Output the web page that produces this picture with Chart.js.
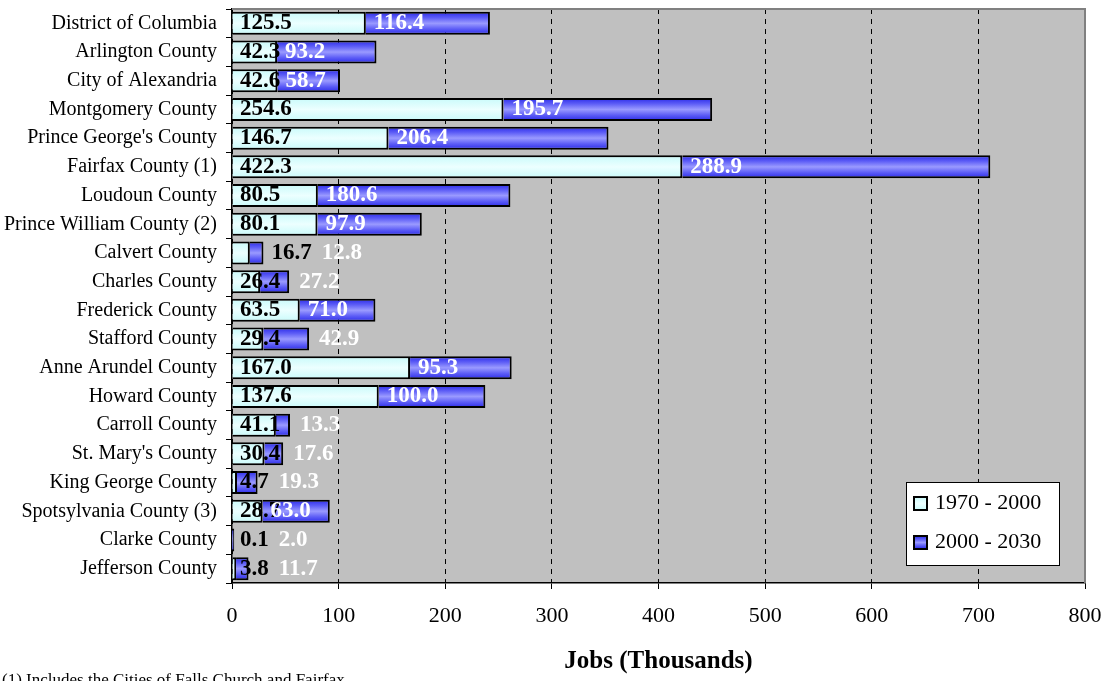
<!DOCTYPE html>
<html>
<head>
<meta charset="utf-8">
<script src="https://cdn.jsdelivr.net/npm/chart.js@4/dist/chart.umd.min.js"></script>
<style>
  html, body { margin: 0; padding: 0; background: #fff; }
  #wrap { width: 1105px; height: 681px; position: relative; }
</style>
</head>
<body>
<div id="wrap"><canvas id="jobsChart" width="1105" height="681"></canvas></div>
<script>
const counties = [
  'District of Columbia', 'Arlington County', 'City of Alexandria', 'Montgomery County',
  "Prince George's County", 'Fairfax County (1)', 'Loudoun County', 'Prince William County (2)',
  'Calvert County', 'Charles County', 'Frederick County', 'Stafford County',
  'Anne Arundel County', 'Howard County', 'Carroll County', "St. Mary's County",
  'King George County', 'Spotsylvania County (3)', 'Clarke County', 'Jefferson County'
];
const jobs1970to2000 = [125.5, 42.3, 42.6, 254.6, 146.7, 422.3, 80.5, 80.1, 16.7, 26.4,
  63.5, 29.4, 167.0, 137.6, 41.1, 30.4, 4.7, 28.7, 0.1, 3.8];
const jobs2000to2030 = [116.4, 93.2, 58.7, 195.7, 206.4, 288.9, 180.6, 97.9, 12.8, 27.2,
  71.0, 42.9, 95.3, 100.0, 13.3, 17.6, 19.3, 63.0, 2.0, 11.7];
const seriesNames = ['1970 - 2000', '2000 - 2030'];
const xTicks = [0, 100, 200, 300, 400, 500, 600, 700, 800];
const footnote = '(1) Includes the Cities of Falls Church and Fairfax';

const SERIF = '"Liberation Serif", "Times New Roman", serif';

// horizontal stripes like the old office fill
function blueFill(ctx, top, bottom) {
  const g = ctx.createLinearGradient(0, top, 0, bottom);
  g.addColorStop(0, '#2a2ae8');
  g.addColorStop(0.25, '#5c5cf6');
  g.addColorStop(0.5, '#9a9aff');
  g.addColorStop(0.75, '#5c5cf6');
  g.addColorStop(1, '#2a2ae8');
  return g;
}
function cyanFill(ctx, top, bottom) {
  const g = ctx.createLinearGradient(0, top, 0, bottom);
  g.addColorStop(0, '#c8fafa');
  g.addColorStop(0.5, '#ecffff');
  g.addColorStop(1, '#c8fafa');
  return g;
}
function barFill(maker, flat) {
  return (c) => {
    const chart = c.chart;
    const y = chart.scales.y;
    if (!chart.chartArea || !y || c.dataIndex === undefined) return flat;
    const mid = y.getPixelForValue(c.dataIndex);
    return maker(chart.ctx, mid - 11.5, mid + 11.5);
  };
}

const plotBackground = {
  id: 'plotBackground',
  beforeDraw(chart) {
    const { ctx, chartArea: a } = chart;
    ctx.save();
    ctx.fillStyle = '#c0c0c0';
    ctx.fillRect(a.left, a.top, a.right - a.left, a.bottom - a.top);
    ctx.restore();
  },
  afterDatasetsDraw(chart) {
    const { ctx, chartArea: a } = chart;
    ctx.save();
    ctx.strokeStyle = '#808080';
    ctx.lineWidth = 2;
    ctx.beginPath();
    ctx.moveTo(a.left, a.top);
    ctx.lineTo(a.right, a.top);
    ctx.lineTo(a.right, a.bottom);
    ctx.stroke();
    ctx.restore();
  }
};

const valueLabels = {
  id: 'valueLabels',
  afterDatasetsDraw(chart) {
    const ctx = chart.ctx;
    const m0 = chart.getDatasetMeta(0);
    const m1 = chart.getDatasetMeta(1);
    const x0 = chart.scales.x.getPixelForValue(0);
    ctx.save();
    ctx.font = 'bold 23px ' + SERIF;
    ctx.textBaseline = 'middle';
    ctx.textAlign = 'left';
    counties.forEach((_, i) => {
      const a = m0.data[i], b = m1.data[i];
      const t0 = jobs1970to2000[i].toFixed(1);
      const t1 = jobs2000to2030[i].toFixed(1);
      const w0 = ctx.measureText(t0).width;
      const w1 = ctx.measureText(t1).width;
      const y = a.y;
      let bx = x0 + 8;
      // a cramped first segment pushes its label past the bar end
      const seg0 = a.x - a.base, seg1 = b.x - b.base;
      if (seg0 > 12 && seg0 < w0 / 2 && seg1 < w1) bx = b.x + 8;
      ctx.fillStyle = '#000';
      ctx.fillText(t0, bx, y);
      let wx = b.base + 8;
      if (seg1 < w1 + 12) wx = Math.max(b.x + 10, bx + w0 + 10);
      ctx.fillStyle = '#fff';
      ctx.fillText(t1, wx, y);
    });
    ctx.restore();
  }
};

const boxLegend = {
  id: 'boxLegend',
  afterDraw(chart) {
    const { ctx, chartArea: a } = chart;
    const w = 153, h = 83;
    const lx = a.right - 26 - w, ly = a.bottom - 18 - h;
    ctx.save();
    ctx.fillStyle = '#fff';
    ctx.fillRect(lx, ly, w, h);
    ctx.strokeStyle = '#000';
    ctx.lineWidth = 1;
    ctx.strokeRect(lx + 0.5, ly + 0.5, w, h);
    ctx.font = '22px ' + SERIF;
    ctx.textBaseline = 'middle';
    const rows = [ly + 21, ly + 60];
    seriesNames.forEach((name, i) => {
      const cy = rows[i];
      const sx = lx + 8, sy = cy - 6;
      ctx.fillStyle = i === 0 ? cyanFill(ctx, sy, sy + 13) : blueFill(ctx, sy, sy + 13);
      ctx.fillRect(sx, sy, 13, 13);
      ctx.lineWidth = 2;
      ctx.strokeStyle = '#000';
      ctx.strokeRect(sx, sy, 13, 13);
      ctx.fillStyle = '#000';
      ctx.fillText(name, lx + 29, cy);
    });
    ctx.restore();
  }
};

const footnoteText = {
  id: 'footnoteText',
  afterDraw(chart) {
    const ctx = chart.ctx;
    ctx.save();
    ctx.font = '17px ' + SERIF;
    ctx.fillStyle = '#000';
    ctx.textBaseline = 'alphabetic';
    ctx.fillText(footnote, 2, 685);
    ctx.restore();
  }
};

new Chart(document.getElementById('jobsChart'), {
  type: 'bar',
  data: {
    labels: counties,
    datasets: [
      {
        label: seriesNames[0],
        data: jobs1970to2000,
        backgroundColor: barFill(cyanFill, '#e0ffff'),
        borderColor: '#000',
        borderWidth: 2,
        barPercentage: 0.8,
        categoryPercentage: 1.0
      },
      {
        label: seriesNames[1],
        data: jobs2000to2030,
        backgroundColor: barFill(blueFill, '#5050ff'),
        borderColor: '#000',
        borderWidth: 2,
        barPercentage: 0.8,
        categoryPercentage: 1.0
      }
    ]
  },
  options: {
    indexAxis: 'y',
    responsive: false,
    animation: false,
    layout: { padding: { top: 9, right: 20, left: 0, bottom: 0 } },
    scales: {
      x: {
        stacked: true,
        min: 0,
        max: 800,
        afterBuildTicks: (s) => { s.ticks = xTicks.map(v => ({ value: v })); },
        afterFit: (s) => {
          s.height = 98;
          s.paddingLeft = 0;
          s.paddingRight = 0;
        },
        ticks: {
          color: '#000',
          padding: 14,
          font: { family: SERIF, size: 22 }
        },
        grid: {
          color: '#000',
          lineWidth: 1,
          tickLength: 6,
          tickBorderDash: []
        },
        border: { display: true, color: '#000', width: 1.5, dash: [5, 5] },
        title: {
          display: true,
          text: 'Jobs (Thousands)',
          color: '#000',
          font: { family: SERIF, size: 25, weight: 'bold', lineHeight: 1 },
          padding: { top: 0, bottom: 7 }
        }
      },
      y: {
        stacked: true,
        afterFit: (s) => {
          s.width = 232;
          s.paddingTop = 0;
          s.paddingBottom = 0;
        },
        ticks: {
          color: '#000',
          padding: 9,
          autoSkip: false,
          font: { family: SERIF, size: 20 }
        },
        grid: {
          display: true,
          drawOnChartArea: false,
          drawTicks: true,
          tickLength: 6,
          color: '#000',
          offset: true
        },
        border: { display: true, color: '#000', width: 1.5 }
      }
    },
    plugins: {
      legend: { display: false },
      tooltip: { enabled: false }
    }
  },
  plugins: [plotBackground, valueLabels, boxLegend, footnoteText]
});
</script>
</body>
</html>
